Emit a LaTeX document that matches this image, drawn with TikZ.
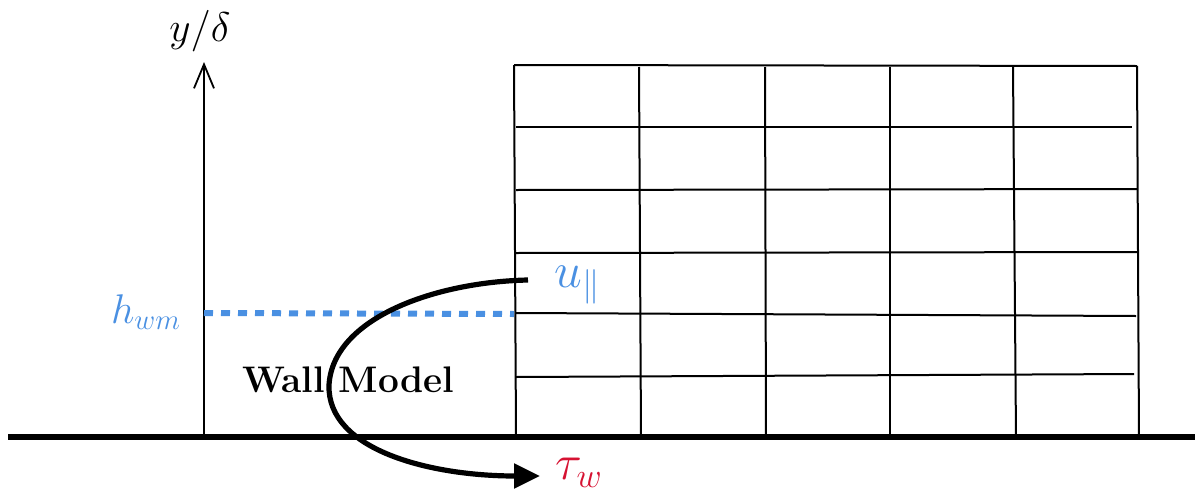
\documentclass[tikz,border=0pt]{standalone}
\usetikzlibrary{arrows.meta}
\definecolor{wmblue}{RGB}{74,144,226}
\definecolor{wmred}{RGB}{214,18,50}
\begin{document}
\begin{tikzpicture}[x=0.5pt,y=-0.5pt,
  gridline/.style={line width=1pt,black},
  wall/.style={line width=2.6pt,black},
  axisline/.style={line width=1pt,-{Straight Barb[length=12pt,width=10pt,line width=0.9pt]}},
  wmflow/.style={line width=2.6pt,-{Triangle[length=13pt,width=12pt]}},
  hline/.style={wmblue,line width=3pt,dash pattern=on 4.5pt off 4pt},
  lbl/.style={inner sep=0pt}]
\useasboundingbox (0,0) rectangle (1195,493);
% grid
\draw[gridline] (514,65) -- (1137,66);
\draw[gridline] (514,65) -- (516,437);
\draw[gridline] (639,67) -- (641,437);
\draw[gridline] (765,67) -- (766,437);
\draw[gridline] (890,67) -- (890,437);
\draw[gridline] (1013,67) -- (1016,437);
\draw[gridline] (1137,66) -- (1139,437);
\draw[gridline] (516,127) -- (1132,127);
\draw[gridline] (516,190) -- (1137,189);
\draw[gridline] (516,253) -- (1137,252);
\draw[gridline] (516,313) -- (1136,316);
\draw[gridline] (516,377) -- (1134,374);
% wall
\coordinate (wl) at (8,437);
\coordinate (wr) at (1195,437);
\draw[wall] (wl) -- (wr);
% axis
\coordinate (ab) at (204,437);
\coordinate (at) at (204,62);
\draw[axisline] (ab) -- (at);
\node[lbl] (ylab) at (200,31) {\fontsize{20}{24}\selectfont $y/\delta$};
% h_wm
\coordinate (hs) at (204,313);
\coordinate (he) at (514,314);
\draw[hline] (hs) -- (he);
\node[lbl,text=wmblue] (hwm) at (146,312) {\fontsize{20}{24}\selectfont $h_{wm}$};
% labels
\node[lbl,text=wmblue] (upar) at (578,285) {\fontsize{27}{30}\selectfont $u_{\parallel}$};
\node[lbl,text=wmred] (tauw) at (579,473) {\fontsize{27}{30}\selectfont $\tau_{w}$};
\node[lbl] (wm) at (348,380) {\fontsize{18.5}{22}\selectfont\bfseries Wall Model};
% flow curve
\coordinate (cs) at (528,280);
\coordinate (ce) at (540,476);
\draw[wmflow] (cs) .. controls (435,282) and (333,318) .. (329,385) .. controls (327,450) and (430,476) .. (ce);
\end{tikzpicture}
\end{document}
